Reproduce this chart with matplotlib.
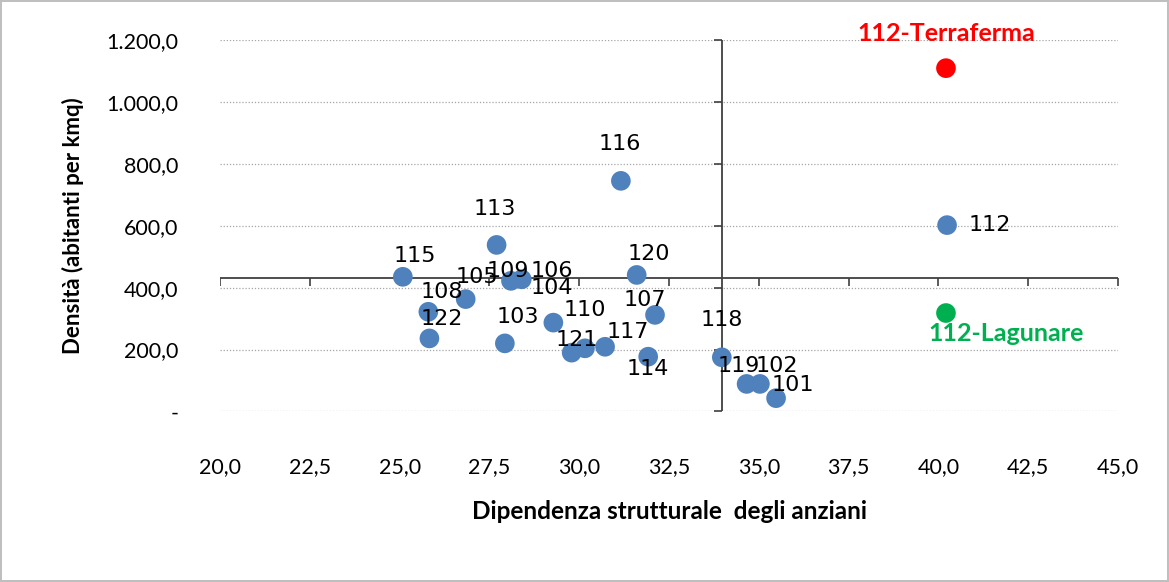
import numpy as np
import matplotlib.pyplot as plt
from matplotlib.ticker import FuncFormatter
from matplotlib.lines import TICKDOWN, TICKLEFT

# quartieri: dipendenza anziani (x), densita (y)
labels = ['101', '102', '103', '104', '105', '106', '107', '108', '109', '110',
          '112', '113', '114', '115', '116', '117', '118', '119', '120', '121', '122']
dip = [35.48, 35.03, 27.93, 29.28, 26.84, 28.40, 32.11, 25.80, 28.10, 30.16,
       40.24, 27.70, 31.92, 25.09, 31.16, 30.72, 33.97, 34.66, 31.60, 29.79, 25.83]
dens = [43, 89, 220, 287, 363, 427, 312, 322, 422, 204,
        602, 538, 177, 435, 745, 209, 175, 89, 441, 190, 236]

# 112 split
terra_x, terra_y = 40.21, 1109
lag_x, lag_y = 40.21, 318

# valori di riferimento (incrocio assi)
x_cross = 33.97
y_cross = 432

# label offsets in pixels (dx, dy), dy positive = up
offs = {'101': (17, 13), '102': (17, 18), '103': (13, 26), '104': (-2, 35),
        '105': (11, 22), '106': (30, 8), '107': (-10, 15), '108': (13, 20),
        '109': (-3, 10), '110': (0, 38), '112': (43, 0), '113': (-2, 36),
        '114': (0, -12), '115': (12, 21), '116': (-1, 37), '117': (23, 15),
        '118': (0, 37), '119': (-8, 18), '120': (12, 21), '121': (5, 13),
        '122': (12, 19)}

fig = plt.figure(figsize=(11.69, 5.82), dpi=100)
fig.patch.set_edgecolor('#bfbfbf')
fig.patch.set_linewidth(1.5)
ax = fig.add_axes([0.1882, 0.2930, 0.7682, 0.6383])

ax.set_xlim(20, 45)
ax.set_ylim(0, 1200)
xt = np.arange(20, 45.1, 2.5)
yt = np.arange(0, 1201, 200)
ax.set_xticks(xt)
ax.set_yticks(yt)

def itfmt(v, pos=None):
    if v == 0:
        return '-'
    s = '{:,.1f}'.format(v)
    return s.replace(',', 'X').replace('.', ',').replace('X', '.')

ax.yaxis.set_major_formatter(FuncFormatter(itfmt))
ax.xaxis.set_major_formatter(FuncFormatter(lambda v, p: '{:.1f}'.format(v).replace('.', ',')))

for s in ax.spines.values():
    s.set_visible(False)
ax.tick_params(length=0, labelsize=15.5, colors='#000000')
ax.tick_params(axis='x', pad=33)
ax.tick_params(axis='y', pad=30)
for t in ax.get_xticklabels() + ax.get_yticklabels():
    t.set_family('Lato')

for y in yt:
    ax.axhline(y, color='#a6a6a6', lw=0.9, ls=(0, (1, 1.5)), zorder=0)

ax.axvline(x_cross, color='#404040', lw=1.3, zorder=1)
ax.axhline(y_cross, color='#404040', lw=1.3, zorder=1)
ax.plot(xt, [y_cross] * len(xt), ls='none', marker=TICKDOWN, ms=6, mew=1.2, color='#404040', zorder=1)
ax.plot([x_cross] * len(yt), yt, ls='none', marker=TICKLEFT, ms=6, mew=1.2, color='#404040', zorder=1,
        clip_on=False)

ax.scatter(dip, dens, s=200, color='#4f81bd', edgecolors='none', zorder=3)
ax.scatter([terra_x], [terra_y], s=200, color='#ff0000', edgecolors='none', zorder=3)
ax.scatter([lag_x], [lag_y], s=200, color='#00b050', edgecolors='none', zorder=3)

for lab, x, y in zip(labels, dip, dens):
    dx, dy = offs[lab]
    ax.annotate(lab, (x, y), xytext=(dx, dy), textcoords='offset pixels',
                ha='center', va='center', fontsize=16, family='DejaVu Sans', zorder=4)

ax.annotate('112-Terraferma', (terra_x, terra_y), xytext=(0, 35), textcoords='offset pixels',
            ha='center', va='center', fontsize=18, fontweight='bold', family='Lato',
            color='#ff0000', zorder=4)
ax.annotate('112-Lagunare', (lag_x, lag_y), xytext=(60, -20), textcoords='offset pixels',
            ha='center', va='center', fontsize=18, fontweight='bold', family='Lato',
            color='#00b050', zorder=4)

ax.set_xlabel('Dipendenza strutturale  degli anziani', fontsize=17.5, fontweight='bold',
              family='Lato', labelpad=16)
ax.set_ylabel('Densità (abitanti per kmq)', fontsize=16, fontweight='bold',
              family='Lato', labelpad=16)

fig.savefig('out.png', dpi=100, edgecolor=fig.get_edgecolor())
